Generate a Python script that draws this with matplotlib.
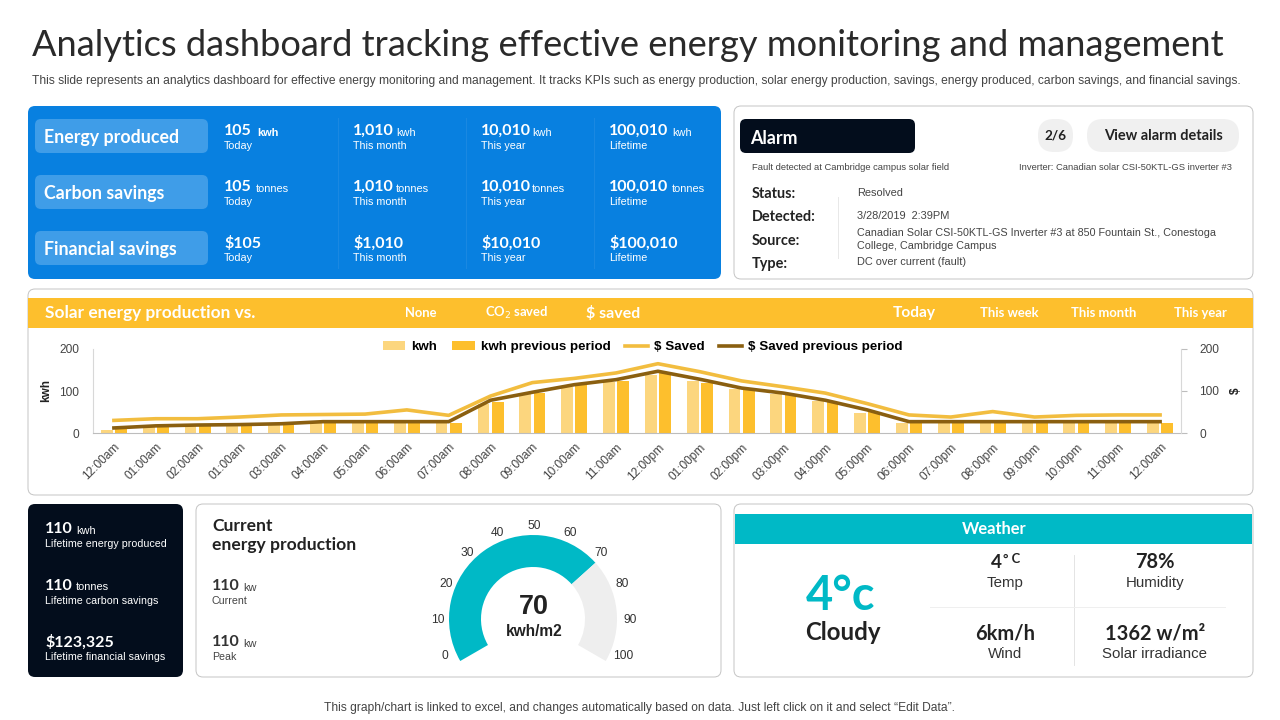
import numpy as np
import matplotlib
matplotlib.use('Agg')
import matplotlib.pyplot as plt
from matplotlib.patches import FancyBboxPatch, Rectangle

hours = ['12:00am', '01:00am', '02:00am', '01:00am', '03:00am', '04:00am', '05:00am', '06:00am', '07:00am',
         '08:00am', '09:00am', '10:00am', '11:00am', '12:00pm', '01:00pm', '02:00pm', '03:00pm', '04:00pm',
         '05:00pm', '06:00pm', '07:00pm', '08:00pm', '09:00pm', '10:00pm', '11:00pm', '12:00am']
kwh = [8, 16, 19, 20, 20, 25, 25, 25, 25, 70, 92, 110, 122, 138, 124, 104, 92, 76, 48, 25, 25, 25, 25, 25, 25, 25]
kwh_prev = [12, 16, 19, 20, 20, 25, 25, 25, 25, 75, 95, 115, 124, 145, 120, 105, 92, 75, 50, 25, 25, 25, 25, 25, 25, 25]
saved = [30, 34, 34, 38, 43, 44, 45, 55, 42, 88, 120, 130, 143, 165, 146, 124, 110, 95, 70, 43, 38, 51, 38, 42, 43, 43]
saved_prev = [12, 17, 19, 20, 22, 27, 27, 27, 27, 78, 97, 115, 127, 147, 128, 107, 95, 78, 55, 27, 27, 27, 27, 27, 27, 27]

gauge_value = 70
gauge_ticks = [0, 10, 20, 30, 40, 50, 60, 70, 80, 90, 100]

rows = ['Energy produced', 'Carbon savings', 'Financial savings']
periods = ['Today', 'This month', 'This year', 'Lifetime']
row_values = ['105', '1,010', '10,010', '100,010']
row_units = ['kwh', 'tonnes']
money_values = ['$105', '$1,010', '$10,010', '$100,010']

HEAD = ['Lato', 'DejaVu Sans']
BODY = ['Liberation Sans', 'DejaVu Sans']
YEL = '#fdbf2d'
LIGHT = '#fcd67e'
GOLD = '#f2bd3f'
BROWN = '#8a5f10'
TEAL = '#00b9c6'
NAVY = '#030d1c'
BLUE = '#0880e0'

fig = plt.figure(figsize=(12.8, 7.2), dpi=100, facecolor='white')
bg = fig.add_axes([0, 0, 1, 1])
bg.set_xlim(0, 1280)
bg.set_ylim(720, 0)
bg.axis('off')


def box(x0, y0, x1, y1, fc='white', ec='#c4c4c4', r=7, lw=0.7):
    bg.add_patch(FancyBboxPatch((x0, y0), x1 - x0, y1 - y0, boxstyle='round,pad=0,rounding_size=%g' % r,
                                fc=fc, ec=ec, lw=lw))


def txt(x, y, s, px, color='#222222', fam=BODY, weight='normal', ha='left', **kw):
    bg.text(x, y + 1, s, fontsize=px * 0.72, color=color, family=fam, weight=weight, ha=ha, va='center', **kw)


# title
txt(32, 45, 'Analytics dashboard tracking effective energy monitoring and management', 36.2, '#2a2a2a', HEAD)
txt(32, 80, 'This slide represents an analytics dashboard for effective energy monitoring and management. It tracks KPIs '
    'such as energy production, solar energy production, savings, energy produced, carbon savings, and financial savings.',
    12.0, '#444444')

# blue panel
box(28, 106, 721, 279, fc=BLUE, ec='none')
col_x = [224, 353, 481, 609]
unit_x = [[257, 396, 532, 672], [256, 396, 532, 672]]
for x in [338, 466, 594]:
    bg.plot([x, x], [118, 268], color='#1b89e2', lw=0.7)
for i, name in enumerate(rows):
    y = 136 + i * 56
    box(35, y - 17, 208, y + 17, fc='#3f9de8', ec='none', r=6)
    txt(44, y + 1, name, 17.7, 'white', HEAD, weight='bold')
    for j, per in enumerate(periods):
        if i < 2:
            txt(col_x[j], y - 6, row_values[j], 16, 'white', HEAD, weight='bold')
            txt(unit_x[i][j], y - 4, row_units[i], 11, 'white', weight='bold' if (i == 0 and j == 0) else 'normal')
        else:
            txt(col_x[j], y - 6, money_values[j].replace('$', '\\$'), 16, 'white', HEAD, weight='bold')
        txt(col_x[j], y + 9, per, 10.8, 'white')

# alarm panel
box(734, 106, 1253, 279)
box(740, 119, 915, 153, fc=NAVY, ec='none', r=6)
txt(750, 137, 'Alarm', 17.7, 'white', HEAD, weight='bold')
box(1038, 119, 1073, 152, fc='#f0f0f0', ec='none', r=16)
txt(1055, 135, '2/6', 13.5, '#222222', HEAD, weight='bold', ha='center')
box(1087, 119, 1239, 152, fc='#f0f0f0', ec='none', r=16)
txt(1163, 135, 'View alarm details', 14.5, '#222222', HEAD, weight='bold', ha='center')
txt(752, 167, 'Fault detected at Cambridge campus solar field', 9.4, '#444444')
txt(1232, 167, 'Inverter: Canadian solar CSI-50KTL-GS inverter #3', 9.4, '#444444', ha='right')
labels = ['Status:', 'Detected:', 'Source:', 'Type:']
for y, lab in zip([193, 216, 240, 263], labels):
    txt(752, y, lab, 14.5, '#222222', HEAD, weight='bold')
bg.plot([838, 838], [197, 258], color='#e8e8e8', lw=0.7)
txt(857, 192, 'Resolved', 11, '#444444')
txt(857, 215, '3/28/2019  2:39PM', 11, '#444444')
txt(857, 232, 'Canadian Solar CSI-50KTL-GS Inverter #3 at 850 Fountain St., Conestoga', 10.8, '#444444')
txt(857, 245, 'College, Cambridge Campus', 10.8, '#444444')
txt(857, 261, 'DC over current (fault)', 11, '#444444')

# chart panel
box(28, 289, 1253, 495)
bg.add_patch(Rectangle((28, 298), 1225, 30, fc=YEL, ec='none'))
txt(45, 312, 'Solar energy production vs.', 17.3, 'white', HEAD, weight='bold')
for x, s, px in [(421, 'None', 13), (517, 'CO$_2$ saved', 13), (613, '\\$ saved', 16),
                 (914, 'Today', 15.5), (1009, 'This week', 13), (1104, 'This month', 13), (1200, 'This year', 13)]:
    txt(x, 312, s, px, 'white', HEAD, weight='bold', ha='center')

ax = fig.add_axes([93 / 1280, 1 - 433 / 720, (1181 - 93) / 1280, 84 / 720])
ax.patch.set_alpha(0)
pos = np.arange(len(hours))
b1 = ax.bar(pos - 0.17, kwh, 0.28, color=LIGHT, label='kwh')
b2 = ax.bar(pos + 0.17, kwh_prev, 0.28, color=YEL, label='kwh previous period')
ax.set_xlim(-0.5, len(hours) - 0.5)
ax.set_ylim(0, 200)
ax.set_yticks([0, 100, 200])
ax.set_xticks(pos)
ax.set_xticklabels(hours, rotation=45, ha='right', rotation_mode='anchor', fontsize=8.6, color='#444444', family=BODY)
ax.tick_params(axis='x', length=0, pad=6)
ax.tick_params(axis='y', length=0, labelsize=8.6, labelcolor='#444444', pad=10)
ax.set_ylabel('kwh', fontsize=8.5, weight='bold', family=BODY, color='#222222', labelpad=5)
ax.spines['top'].set_visible(False)
ax.spines['right'].set_visible(False)
ax.spines['left'].set_color('#d8d8d8')
ax.spines['bottom'].set_color('#bdbdbd')

ax2 = ax.twinx()
l1, = ax2.plot(pos, saved, color=GOLD, lw=2.6, solid_joinstyle='round')
l2, = ax2.plot(pos, saved_prev, color=BROWN, lw=2.6)
ax2.set_ylim(0, 200)
ax2.set_yticks([0, 100, 200])
ax2.tick_params(axis='y', length=4, color='#bdbdbd', labelsize=8.6, labelcolor='#444444', pad=9)
ax2.set_ylabel('\\$', fontsize=8.5, weight='bold', family=BODY, rotation=90, color='#222222', labelpad=8)
for s in ['top', 'left', 'bottom']:
    ax2.spines[s].set_visible(False)
ax2.spines['right'].set_color('#d8d8d8')
for t in ax2.get_yticklabels() + ax.get_yticklabels():
    t.set_family(BODY)
ax2.legend([b1, b2, l1, l2], ['kwh', 'kwh previous period', '\\$ Saved', '\\$ Saved previous period'],
           loc='center', bbox_to_anchor=(0.505, 1.02), ncol=4, frameon=False, handlelength=1.7, handleheight=0.65,
           handletextpad=0.45, columnspacing=1.1, borderpad=0,
           prop={'family': BODY, 'size': 9.6, 'weight': 'bold'})

# lifetime panel
box(28, 504, 183, 677, fc=NAVY, ec='none')
life = [('110', 'kwh', 'Lifetime energy produced', 76), ('110', 'tonnes', 'Lifetime carbon savings', 76),
        ('\\$123,325', '', 'Lifetime financial savings', 0)]
for i, (val, unit, lab, ux) in enumerate(life):
    y = 528 + i * 56.5
    txt(45, y, val, 16, 'white', HEAD, weight='bold')
    if unit:
        txt(ux, y + 2, unit, 11, 'white')
    txt(45, y + 15, lab, 10.6, 'white')

# gauge panel
box(196, 504, 721, 677)
txt(212, 525, 'Current', 17.5, '#222222', HEAD, weight='bold')
txt(212, 544, 'energy production', 17.5, '#222222', HEAD, weight='bold')
for y, lab in [(585, 'Current'), (641, 'Peak')]:
    txt(212, y, '110', 16, '#333333', HEAD, weight='bold')
    txt(243, y + 2, 'kw', 11, '#444444')
    txt(212, y + 15, lab, 10.6, '#444444')

gx, gy, gr = 533, 619, 84
ga = fig.add_axes([(gx - gr) / 1280, 1 - (gy + gr) / 720, 2 * gr / 1280, 2 * gr / 720])
# 240 degree sweep, the rest of the pie is hidden
wedges, _ = ga.pie([gauge_value, 100 - gauge_value, 50], colors=[TEAL, '#eeeeee', 'none'], startangle=210,
                   counterclock=False, radius=1, wedgeprops={'width': 32 / 84, 'lw': 0})
ga.set_xlim(-1, 1)
ga.set_ylim(-1, 1)
ga.patch.set_alpha(0)
for v in gauge_ticks:
    a = np.radians(201 - 2.22 * v)
    txt(534 + 96 * np.cos(a), 621 - 96 * np.sin(a), str(v), 12, '#333333', ha='center')
txt(534, 606, str(gauge_value), 27, '#222222', weight='bold', ha='center')
txt(534, 631, 'kwh/m2', 15.5, '#222222', weight='bold', ha='center')

# weather panel
box(734, 504, 1253, 677)
bg.add_patch(Rectangle((735, 514), 517, 30, fc=TEAL, ec='none'))
txt(994, 528, 'Weather', 16.5, 'white', HEAD, weight='bold', ha='center')
txt(841, 595, '4\u00b0c', 47, TEAL, HEAD, weight='bold', ha='center')
txt(843, 632, 'Cloudy', 24, '#222222', HEAD, weight='bold', ha='center')
bg.plot([1074, 1074], [555, 665], color='#e4e4e4', lw=0.7)
bg.plot([930, 1225], [607, 607], color='#efefef', lw=0.7)
txt(996, 562, '4', 19, '#222222', HEAD, weight='bold', ha='center')
txt(1012, 558, '\u00b0 C', 13, '#222222', HEAD, weight='bold', ha='center')
txt(1005, 582, 'Temp', 15, '#333333', ha='center')
txt(1155, 561, '78%', 20, '#222222', HEAD, weight='bold', ha='center')
txt(1155, 582, 'Humidity', 15, '#333333', ha='center')
txt(1005, 632, '6km/h', 20, '#222222', HEAD, weight='bold', ha='center')
txt(1005, 653, 'Wind', 15, '#333333', ha='center')
txt(1155, 632, '1362 w/m\u00b2', 20, '#222222', HEAD, weight='bold', ha='center')
txt(1155, 653, 'Solar irradiance', 15, '#333333', ha='center')

txt(640, 707, 'This graph/chart is linked to excel, and changes automatically based on data. Just left click on it and select \u201cEdit Data\u201d.',
    12, '#444444', ha='center')

fig.savefig('out.png', dpi=100)
